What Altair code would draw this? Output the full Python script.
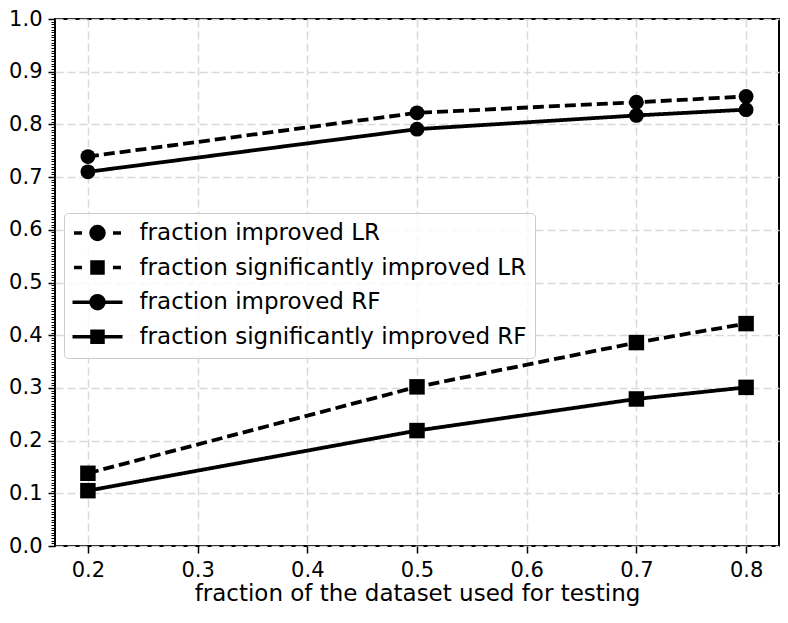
import altair as alt
import pandas as pd

# ---- data ----
x_vals = [0.2, 0.5, 0.7, 0.8]
lr_improved = [0.739, 0.822, 0.842, 0.853]
lr_sig = [0.138, 0.302, 0.386, 0.422]
rf_improved = [0.710, 0.791, 0.817, 0.828]
rf_sig = [0.105, 0.219, 0.279, 0.301]

series_names = [
    "fraction improved LR",
    "fraction significantly improved LR",
    "fraction improved RF",
    "fraction significantly improved RF",
]
series_values = [lr_improved, lr_sig, rf_improved, rf_sig]
series_markers = ["circle", "square", "circle", "square"]

x_ticks = [0.2, 0.3, 0.4, 0.5, 0.6, 0.7, 0.8]
y_ticks = [0.0, 0.1, 0.2, 0.3, 0.4, 0.5, 0.6, 0.7, 0.8, 0.9, 1.0]
y_minor = [round(i * 0.005, 3) for i in range(201)]

rows = []
for name, vals, mk in zip(series_names, series_values, series_markers):
    for xv, yv in zip(x_vals, vals):
        rows.append({"x": xv, "y": yv, "series": name, "marker": mk})
df = pd.DataFrame(rows)

# legend symbols: line + marker (custom paths)
circ = "M-0.65,0A0.65,0.65,0,1,0,0.65,0A0.65,0.65,0,1,0,-0.65,0Z"
sq = "M-0.55,-0.55H0.55V0.55H-0.55Z"
dash_seg = "M-2.35,0H-1.55M1.55,0H2.35"
solid_seg = "M-2.5,0H2.5"
legend_paths = [dash_seg + circ, dash_seg + sq, solid_seg + circ, solid_seg + sq]
all_black = ["black", "black", "black", "black"]

FONT = "DejaVu Sans"

x_enc = alt.X(
    "x:Q",
    scale=alt.Scale(domain=[0.17, 0.83], nice=False, zero=False),
    axis=alt.Axis(
        values=x_ticks, format=".1f", title="fraction of the dataset used for testing",
        labelFontSize=21, titleFontSize=23, titleFontWeight="normal",
        titlePadding=2, labelPadding=6, tickSize=7, tickWidth=1.5, tickColor="black",
        labelColor="black", titleColor="black", domain=False,
        grid=True, gridDash=[8, 4], gridColor="#d9d9d9", gridWidth=1.5,
    ),
)
y_scale = alt.Scale(domain=[0, 1], nice=False, zero=True)

lines = alt.Chart(df).mark_line(color="black", strokeWidth=3.8).encode(
    x=x_enc,
    y=alt.Y("y:Q", scale=y_scale, axis=None),
    detail="series:N",
    strokeDash=alt.condition(
        "indexof(datum.series, 'LR') >= 0", alt.value([11, 5]), alt.value([1, 0])
    ),
)

points = alt.Chart(df).mark_point(filled=True, color="black", opacity=1).encode(
    x=x_enc,
    y=alt.Y(
        "y:Q", scale=y_scale,
        axis=alt.Axis(
            values=y_ticks, format=".1f", title=None, labelFontSize=21,
            labelPadding=6, tickSize=7, tickWidth=1.5, tickColor="black",
            labelColor="black", domain=False,
            grid=True, gridDash=[8, 4], gridColor="#d9d9d9", gridWidth=1.5,
        ),
    ),
    shape=alt.condition("datum.marker == 'circle'", alt.value("circle"), alt.value("square")),
    size=alt.condition("datum.marker == 'circle'", alt.value(220), alt.value(240)),
)

# carries the legend (explicit domain) and the minor y ticks; draws no marks
legend_layer = alt.Chart(df).transform_filter("datum.x < 0").mark_point(
    filled=True, strokeWidth=3.5, opacity=1
).encode(
    x=x_enc,
    y=alt.Y(
        "y:Q", scale=y_scale,
        axis=alt.Axis(
            values=y_minor, labels=False, title=None, tickSize=4, tickWidth=1,
            tickColor="black", domain=False, grid=False, orient="left",
        ),
    ),
    fill=alt.Fill("series:N", scale=alt.Scale(domain=series_names, range=all_black)),
    stroke=alt.Stroke("series:N", scale=alt.Scale(domain=series_names, range=all_black)),
    shape=alt.Shape(
        "series:N",
        scale=alt.Scale(domain=series_names, range=legend_paths),
        legend=alt.Legend(
            title=None, orient="none", legendX=9, legendY=194,
            labelFontSize=23, labelFont=FONT, labelColor="black", labelLimit=600,
            symbolSize=400, symbolStrokeWidth=3.5, symbolFillColor="black",
            symbolStrokeColor="black", symbolOpacity=1, symbolOffset=13.5,
            labelOffset=30, rowPadding=7.6, padding=8,
            fillColor="rgba(255,255,255,0.8)", strokeColor="#cccccc",
            cornerRadius=4,
        ),
    ),
)

chart = (
    alt.layer(lines, points, legend_layer)
    .resolve_axis(y="independent")
    .properties(
        width=724, height=527,
        autosize=alt.AutoSizeParams(type="none"),
        padding={"left": 47, "top": 11, "right": 1, "bottom": 62},
    )
    .configure(font=FONT)
    .configure_view(stroke="black", strokeWidth=2)
)

chart.save("out.html", embed_options={"renderer": "svg", "actions": False})
